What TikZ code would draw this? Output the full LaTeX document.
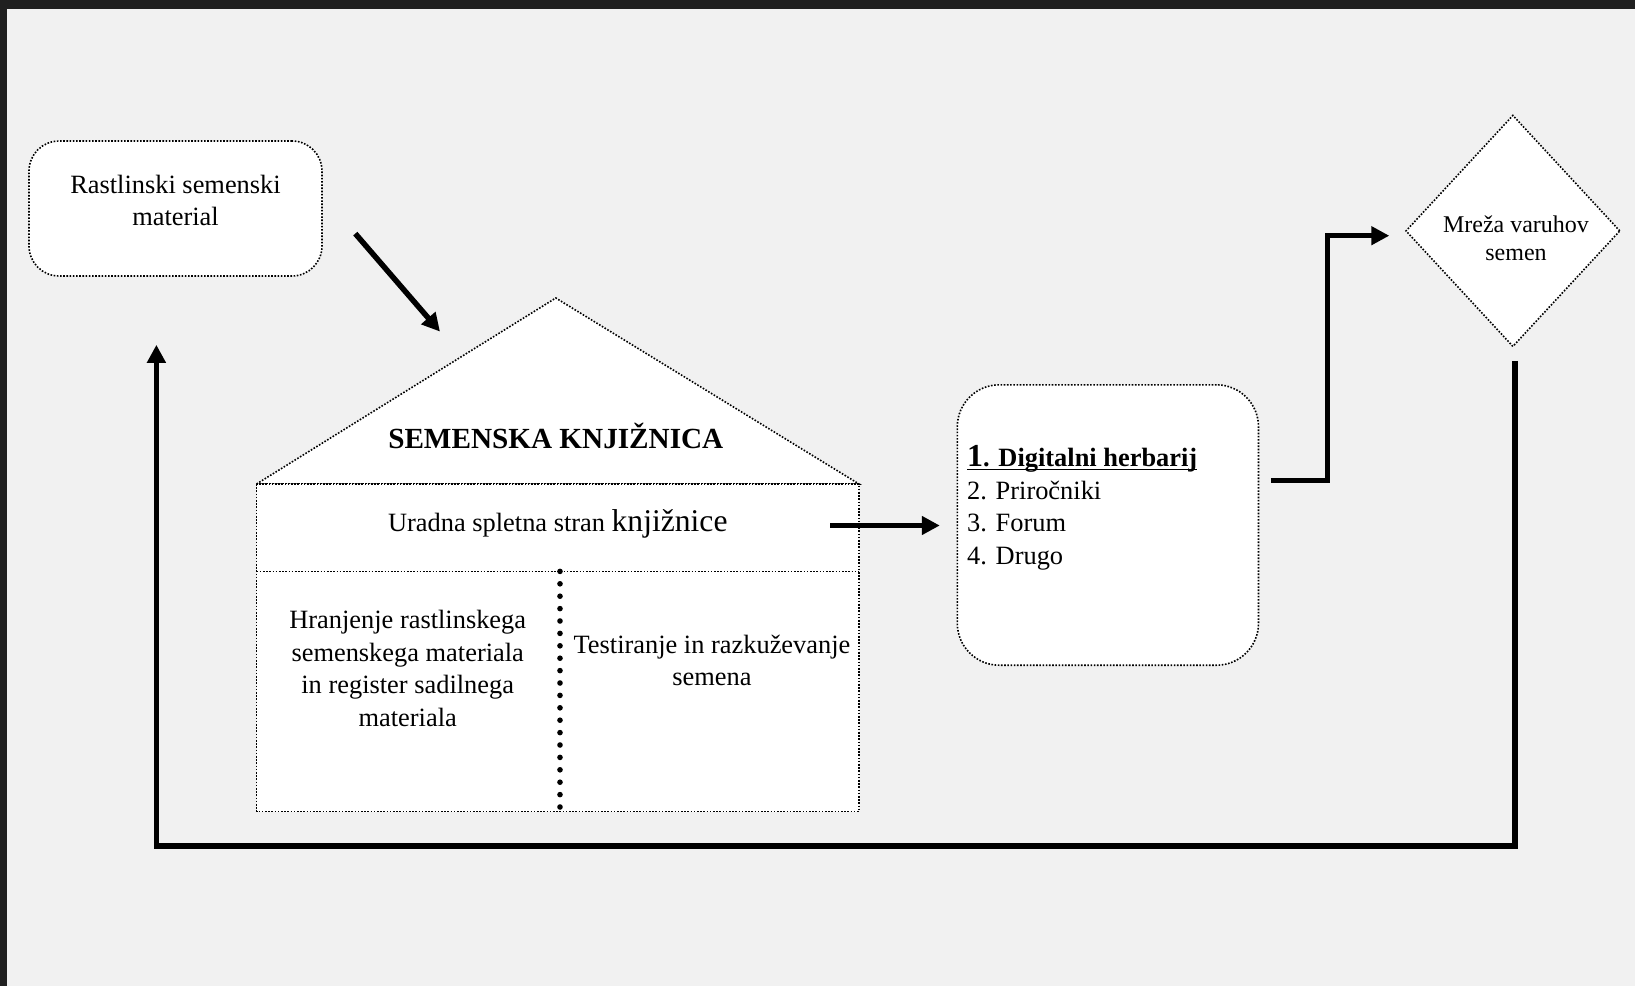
\documentclass[tikz,border=0pt]{standalone}
\usepackage{fontspec}
\setmainfont{Liberation Serif}
\usetikzlibrary{positioning,calc,shapes.geometric,arrows.meta}
\definecolor{pagegray}{HTML}{F1F1F1}
\definecolor{framedark}{HTML}{202020}
\newcommand{\basefont}{\fontsize{13.2}{16.2}\selectfont}

\begin{document}
\begin{tikzpicture}[x=0.5pt, y=-0.5pt,
		dotline/.style={draw=black, line width=0.8pt, dash pattern=on 0.8pt off 0.8pt},
		frame/.style={dotline, fill=white},
		roundbox/.style={frame, rectangle, rounded corners=15pt, minimum width=146.5pt, minimum height=67.5pt},
		listbox/.style={frame, rectangle, rounded corners=21pt, minimum width=150.6pt, minimum height=140.2pt},
		rhomb/.style={frame, diamond, inner sep=0pt, minimum width=107.2pt, minimum height=115.8pt},
		txt/.style={align=center, inner sep=0pt, font=\basefont},
		flow/.style={line width=2.75pt, line join=miter, -{Triangle[length=9pt, width=9pt]}}
	]
	\useasboundingbox (0,0) rectangle (1635,986);
	\fill[pagegray] (0,0) rectangle (1635,986);
	\fill[framedark] (0,0) rectangle (1635,9);
	\fill[framedark] (0,0) rectangle (7,986);

	% boxes
	\node[roundbox] (seeds) at (175.5,208.5) {};
	\node[txt] (seedstext) at (175.5,200.4) {Rastlinski semenski\\material};
	\node[listbox] (media) at (1107.9,525) {};
	\node[txt, align=left, anchor=north west] (mediatext) at (966.7,445.4)
		{\underline{\raisebox{0pt}[\height][0pt]{\bfseries{\fontsize{16}{16.2}\selectfont 1}. Digitalni herbarij}}\\
		2. Priročniki\\3. Forum\\4. Drugo};
	\node[rhomb] (network) at (1512.9,230.9) {};
	\node[txt, font=\fontsize{12}{14}\selectfont] (networktext) at (1516,238.4) {Mreža varuhov\\semen};

	% house
	\coordinate (apex) at (555.8,298);
	\coordinate (eaveL) at (256.5,484);
	\coordinate (eaveR) at (859,484);
	\coordinate (floorR) at (859,811.5);
	\coordinate (midL) at (256.5,571.4);
	\coordinate (midR) at (859,571.4);
	\coordinate (wallTop) at (560,571.4);
	\coordinate (wallBot) at (560,811.5);
	\draw[frame] (eaveL) -- (apex) -- (eaveR) -- cycle;
	\draw[frame] (eaveL) rectangle (floorR);
	\draw[dotline] (midL) -- (midR);
	\draw[line width=2.8pt, line cap=round, dash pattern=on 0pt off 6.2pt] (wallTop) -- (wallBot);
	\node[txt, font=\fontsize{14.6}{17}\selectfont\bfseries] (title) at (555.8,435.5) {SEMENSKA KNJIŽNICA};
	\node[txt] (website) at (557.8,524) {Uradna spletna stran {\fontsize{15.8}{18}\selectfont knjižnice}};
	\node[txt] (storage) at (407.7,668.5) {Hranjenje rastlinskega\\semenskega materiala\\in register sadilnega\\materiala};
	\node[txt] (testing) at (712,660.6) {Testiranje in razkuževanje\\semena};

	% connectors
	\coordinate (seedsOut) at ($(seeds.east)+(32.5,25.1)$);
	\coordinate (roofIn) at ($(apex)+(-115.8,33.6)$);
	\coordinate (webOut) at (830,525.5);
	\coordinate (mediaIn) at ($(media.west)+(-16.7,0.5)$);
	\coordinate (mediaOut) at ($(media.east)+(11.5,-44.3)$);
	\coordinate (networkIn) at ($(network.west)+(-15.6,4.8)$);
	\coordinate (networkOut) at ($(network.south)+(2.1,13.3)$);
	\coordinate (seedsIn) at ($(seeds.south)+(-19.1,68)$);
	\begin{scope}[flow]
	\draw (seedsOut) -- (roofIn);
	\draw (webOut) -- (mediaIn);
	\draw (mediaOut) -- ++(56.7,0) |- (networkIn);
	\draw (networkOut) -- ++(0,485) -| (seedsIn);
	\end{scope}
\end{tikzpicture}
\end{document}
